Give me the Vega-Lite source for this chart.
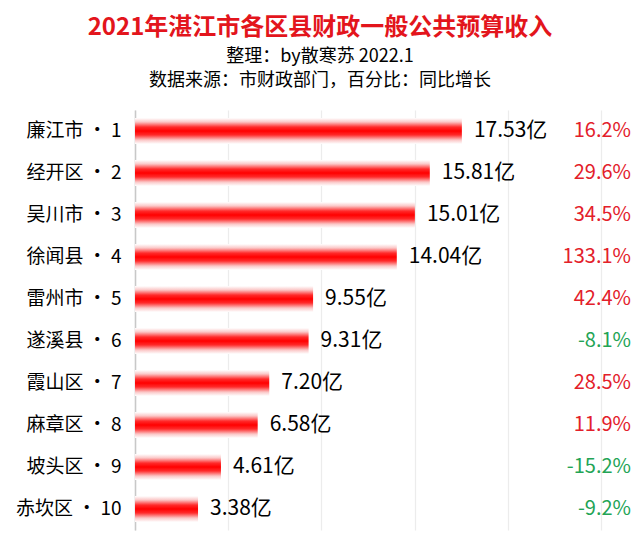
{
  "$schema": "https://vega.github.io/schema/vega-lite/v6.json",
  "width": 496,
  "height": 420,
  "autosize": {"type": "none"},
  "padding": {"left": 135, "top": 110, "right": 9, "bottom": 22},
  "background": "white",
  "title": {
    "text": "2021年湛江市各区县财政一般公共预算收入",
    "subtitle": ["整理：by散寒苏  2022.1", "数据来源：市财政部门，百分比：同比增长"],
    "anchor": "middle",
    "dx": -63,
    "offset": 20,
    "font": "Noto Sans CJK SC",
    "fontSize": 24,
    "fontWeight": "bold",
    "color": "#e3151c",
    "subtitleFont": "Noto Sans CJK SC",
    "subtitleFontSize": 18,
    "subtitleColor": "#000000",
    "subtitleLineHeight": 24,
    "subtitlePadding": 8
  },
  "data": {
    "values": [
      {"label": "廉江市 · 1", "value": 17.53, "text": "17.53亿", "pct": 16.2, "pctText": "16.2%"},
      {"label": "经开区 · 2", "value": 15.81, "text": "15.81亿", "pct": 29.6, "pctText": "29.6%"},
      {"label": "吴川市 · 3", "value": 15.01, "text": "15.01亿", "pct": 34.5, "pctText": "34.5%"},
      {"label": "徐闻县 · 4", "value": 14.04, "text": "14.04亿", "pct": 133.1, "pctText": "133.1%"},
      {"label": "雷州市 · 5", "value": 9.55, "text": "9.55亿", "pct": 42.4, "pctText": "42.4%"},
      {"label": "遂溪县 · 6", "value": 9.31, "text": "9.31亿", "pct": -8.1, "pctText": "-8.1%"},
      {"label": "霞山区 · 7", "value": 7.20, "text": "7.20亿", "pct": 28.5, "pctText": "28.5%"},
      {"label": "麻章区 · 8", "value": 6.58, "text": "6.58亿", "pct": 11.9, "pctText": "11.9%"},
      {"label": "坡头区 · 9", "value": 4.61, "text": "4.61亿", "pct": -15.2, "pctText": "-15.2%"},
      {"label": "赤坎区 · 10", "value": 3.38, "text": "3.38亿", "pct": -9.2, "pctText": "-9.2%"}
    ]
  },
  "encoding": {
    "y": {
      "field": "label",
      "type": "nominal",
      "sort": null,
      "title": null,
      "axis": {
        "labelFont": "Noto Sans CJK SC",
        "labelFontSize": 19,
        "labelColor": "#000000",
        "labelPadding": 14,
        "ticks": false,
        "domainColor": "#c8c8c8",
        "domainWidth": 1.5,
        "grid": false
      }
    }
  },
  "layer": [
    {
      "mark": {
        "type": "bar",
        "size": 26,
        "color": {
          "gradient": "linear",
          "x1": 0, "y1": 0, "x2": 0, "y2": 1,
          "stops": [
            {"offset": 0, "color": "#ffffff"},
            {"offset": 0.15, "color": "#fbc8c8"},
            {"offset": 0.35, "color": "#ff2a2a"},
            {"offset": 0.5, "color": "#ff0000"},
            {"offset": 0.65, "color": "#ff2a2a"},
            {"offset": 0.85, "color": "#fbc8c8"},
            {"offset": 1, "color": "#ffffff"}
          ]
        }
      },
      "encoding": {
        "x": {
          "field": "value",
          "type": "quantitative",
          "scale": {"domain": [0, 26.6], "nice": false, "zero": true},
          "title": null,
          "axis": {
            "values": [0, 5, 10, 15, 20, 25],
            "labels": false,
            "ticks": false,
            "domain": false,
            "grid": true,
            "gridColor": "#ececec",
            "gridWidth": 1.2
          }
        }
      }
    },
    {
      "mark": {"type": "text", "align": "left", "baseline": "middle", "dx": 12, "font": "Noto Sans CJK SC", "fontSize": 21, "color": "#000000"},
      "encoding": {
        "x": {"field": "value", "type": "quantitative"},
        "text": {"field": "text"}
      }
    },
    {
      "mark": {"type": "text", "align": "right", "baseline": "middle", "font": "Noto Sans CJK SC", "fontSize": 20},
      "encoding": {
        "x": {"value": "width"},
        "text": {"field": "pctText"},
        "color": {
          "condition": {"test": "datum.pct < 0", "value": "#23a455"},
          "value": "#e3202a"
        }
      }
    }
  ],
  "config": {"view": {"stroke": null}}
}
